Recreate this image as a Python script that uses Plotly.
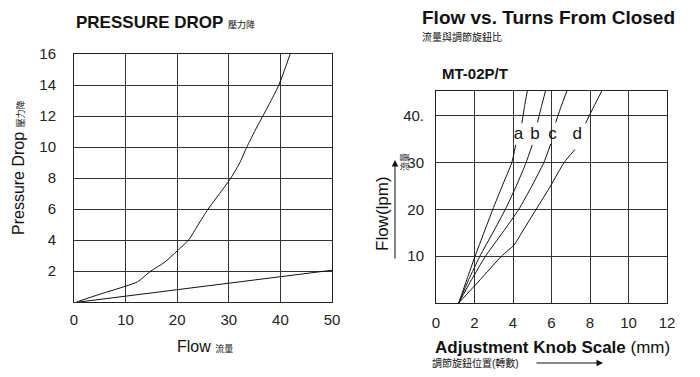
import plotly.graph_objects as go

W, H = 700, 377
FONT = "Arial, 'Liberation Sans', 'Noto Sans CJK TC', sans-serif"

# ---------------- data: left chart (Pressure drop vs flow) ----------------
pd_upper_flow = [0.5, 5, 10, 12.3, 14.9, 17.5, 20, 22.2, 24, 26, 28, 30.2, 32, 33.5, 35, 36.6, 38.2, 39.7, 41.9]
pd_upper_drop = [0, 0.5, 1.02, 1.3, 2.0, 2.55, 3.3, 4.0, 4.95, 6.0, 6.9, 7.9, 8.9, 10.0, 11.0, 12.0, 13.0, 14.0, 16.0]
pd_lower_flow = [1, 10, 20, 30, 40, 50]
pd_lower_drop = [0, 0.38, 0.8, 1.22, 1.63, 2.05]
left_x_ticks = [0, 10, 20, 30, 40, 50]
left_y_ticks = [2, 4, 6, 8, 10, 12, 14, 16]

# ---------------- data: right chart (Flow vs knob scale) ----------------
curve_names = ["a", "b", "c", "d"]
knob_a = [1.18, 1.6, 2.03, 2.49, 2.95, 3.44, 3.94, 4.14, None, 4.46, 4.6, 4.75]
flow_a = [0, 5, 10, 15, 20, 25, 30, 33.8, None, 38.4, 42, 45.5]
knob_b = [1.18, 1.7, 2.28, 2.95, 3.6, 4.17, 4.68, 5.0, None, 5.27, 5.48, 5.7]
flow_b = [0, 5, 10, 15, 20, 25, 30, 33.8, None, 38.6, 42, 45.5]
knob_c = [1.18, 1.85, 2.57, 3.45, 4.3, 4.98, 5.6, 5.96, None, 6.22, 6.5, 6.82]
flow_c = [0, 5, 10, 15, 20, 25, 30, 34.0, None, 38.6, 42, 45.5]
knob_d = [1.18, 2.3, 3.4, 4.06, 4.45, 5.2, 5.95, 6.65, 7.22, None, 7.77, 8.2, 8.64]
flow_d = [0, 5, 10, 12.4, 15, 20, 25, 30, 32.8, None, 38.4, 42, 45.5]
label_knob = [4.28, 5.14, 6.05, 7.34]
label_flow = [35.9, 35.9, 35.9, 35.9]
right_x_ticks = [0, 2, 4, 6, 8, 10, 12]
right_y_ticks = [10, 20, 30, 40]
right_y_ticktext = ["10", "20", "30", "40."]


def px(x):
    return x / W


def py(y):
    return 1 - y / H


fig = go.Figure()
line = dict(color="#111", width=1)

fig.add_trace(go.Scatter(x=pd_upper_flow, y=pd_upper_drop, mode="lines",
                         line=dict(color="#111", width=1, shape="spline", smoothing=0.6),
                         xaxis="x", yaxis="y", showlegend=False, hoverinfo="skip"))
fig.add_trace(go.Scatter(x=pd_lower_flow, y=pd_lower_drop, mode="lines", line=line,
                         xaxis="x", yaxis="y", showlegend=False, hoverinfo="skip"))

for kx, fy in [(knob_a, flow_a), (knob_b, flow_b), (knob_c, flow_c), (knob_d, flow_d)]:
    fig.add_trace(go.Scatter(x=kx, y=fy, mode="lines",
                             line=dict(color="#111", width=1, shape="spline", smoothing=0.5),
                             connectgaps=False,
                             xaxis="x2", yaxis="y2", showlegend=False, hoverinfo="skip"))

fig.add_trace(go.Scatter(x=label_knob, y=label_flow, mode="text", text=curve_names,
                         textfont=dict(family=FONT, size=17, color="#111"),
                         xaxis="x2", yaxis="y2", showlegend=False, hoverinfo="skip"))

axis_common = dict(showline=True, mirror=True, linecolor="#222", linewidth=1,
                   showgrid=True, gridcolor="#333", gridwidth=1, zeroline=False,
                   automargin=False, ticks="",
                   tickfont=dict(family=FONT, size=15, color="#222"))

fig.update_layout(
    width=W, height=H,
    margin=dict(l=0, r=0, t=0, b=0, autoexpand=False),
    paper_bgcolor="white", plot_bgcolor="white",
    font=dict(family=FONT, color="#111"),
    xaxis=dict(domain=[px(74), px(332)], range=[0, 50], tickvals=left_x_ticks,
               anchor="y", ticklabelstandoff=4, **axis_common),
    yaxis=dict(domain=[py(302), py(54)], range=[0, 16], tickvals=left_y_ticks,
               anchor="x", ticklabelstandoff=14, **axis_common),
    xaxis2=dict(domain=[px(436), px(667)], range=[0, 12], tickvals=right_x_ticks,
                anchor="y2", ticklabelstandoff=6, **axis_common),
    yaxis2=dict(domain=[py(303), py(91)], range=[0, 45.3], tickvals=right_y_ticks,
                ticktext=right_y_ticktext, anchor="x2", ticklabelstandoff=8,
                **axis_common),
)

small = "font-size:9px"
ann = [
    dict(x=px(74), y=py(23), xanchor="left", yanchor="middle",
         text=f"<b>PRESSURE DROP</b> <span style='{small}'>壓力降</span>",
         font=dict(family=FONT, size=17, color="#111")),
    dict(x=px(18), y=py(168), xanchor="center", yanchor="middle", textangle=-90,
         text=f"Pressure Drop <span style='{small}'>壓力降</span>",
         font=dict(family=FONT, size=16, color="#111")),
    dict(x=px(205), y=py(346), xanchor="center", yanchor="middle",
         text=f"Flow <span style='{small}'>流量</span>",
         font=dict(family=FONT, size=16, color="#111")),
    dict(x=px(420), y=py(17), xanchor="left", yanchor="middle",
         text="<b>Flow vs. Turns From Closed</b>",
         font=dict(family=FONT, size=19, color="#111")),
    dict(x=px(420), y=py(37), xanchor="left", yanchor="middle",
         text="流量與調節旋鈕比",
         font=dict(family=FONT, size=10, color="#111")),
    dict(x=px(440), y=py(73), xanchor="left", yanchor="middle",
         text="<b>MT-02P/T</b>",
         font=dict(family=FONT, size=15, color="#111")),
    dict(x=px(383), y=py(214), xanchor="center", yanchor="middle", textangle=-90,
         text="Flow(lpm)",
         font=dict(family=FONT, size=17, color="#111")),
    dict(x=px(404), y=py(162), xanchor="center", yanchor="middle", textangle=-90,
         text="流量",
         font=dict(family=FONT, size=9, color="#111")),
    dict(x=px(433), y=py(347), xanchor="left", yanchor="middle",
         text="<b>Adjustment Knob Scale</b> (mm)",
         font=dict(family=FONT, size=17, color="#111")),
    dict(x=px(430), y=py(363), xanchor="left", yanchor="middle",
         text="調節旋鈕位置(轉數)",
         font=dict(family=FONT, size=10, color="#111")),
]
for a in ann:
    a.update(xref="paper", yref="paper", showarrow=False)

arrows = [
    dict(x=px(395), y=py(160), ax=0, ay=100),
    dict(x=px(603), y=py(363), ax=-68, ay=0),
]
for a in arrows:
    a.update(xref="paper", yref="paper", axref="pixel", ayref="pixel", text="",
             showarrow=True, arrowhead=2, arrowsize=1.3, arrowwidth=1, arrowcolor="#111")

fig.update_layout(annotations=ann + arrows)
fig.write_html("out.html", config={"staticPlot": True, "displayModeBar": False},
               post_script="document.body.style.margin='0';")
